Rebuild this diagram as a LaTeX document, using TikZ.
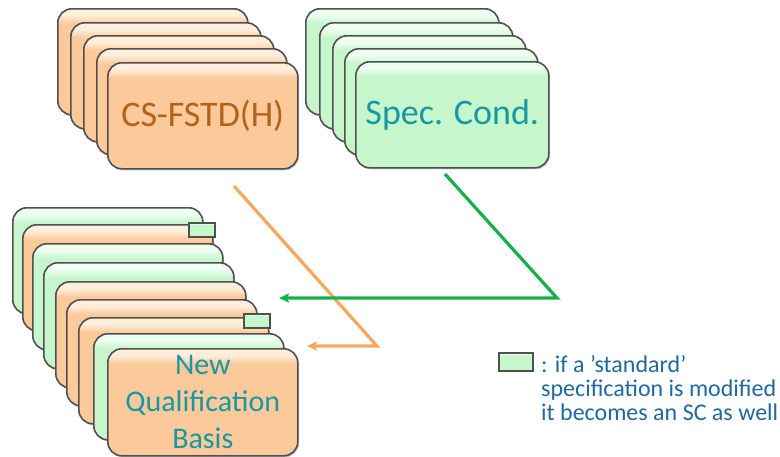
\documentclass[tikz,border=0pt]{standalone}
\usepackage{fontspec}
\setmainfont{Carlito}
\usetikzlibrary{shadows}
\usetikzlibrary{arrows.meta}
\definecolor{peach}{RGB}{251,201,154}
\definecolor{peachhi}{RGB}{255,238,220}
\definecolor{mint}{RGB}{198,246,204}
\definecolor{minthi}{RGB}{238,254,240}
\definecolor{cardline}{RGB}{80,80,80}
\definecolor{fstdbrown}{RGB}{178,98,26}
\definecolor{scteal}{RGB}{23,152,165}
\definecolor{keyblue}{RGB}{31,105,160}
\definecolor{fstdarrow}{RGB}{247,168,95}
\definecolor{scarrow}{RGB}{22,176,74}
% card fill: flat colour with a light band under the top edge
\pgfdeclareverticalshading{peachcard}{100bp}{color(0bp)=(peach); color(68bp)=(peach); color(72bp)=(peachhi); color(75bp)=(peachhi); color(100bp)=(peachhi)}
\pgfdeclareverticalshading{mintcard}{100bp}{color(0bp)=(mint); color(68bp)=(mint); color(72bp)=(minthi); color(75bp)=(minthi); color(100bp)=(minthi)}
\tikzset{
	card/.style={draw=cardline, line width=1.6pt, rounded corners=14pt, inner sep=0pt,
		minimum width=190pt, minimum height=106pt, anchor=north west,
		drop shadow={shadow xshift=1.2pt, shadow yshift=-1.5pt, opacity=0.45}},
	fstdcard/.style={card, shading=peachcard},
	sccard/.style={card, shading=mintcard},
	tab/.style={draw=cardline, line width=1.6pt, shading=mintcard, inner sep=0pt,
		minimum width=26pt, minimum height=14pt, anchor=north east},
	route/.style={line width=3.2pt, -{Stealth[length=10pt, width=9pt, inset=2pt]}}
}
\newcommand{\backcard}[4] % name, x in pt, y in pt (top left corner), style
{
	\node[#4] (#1) at (#2,#3) {};
}

\begin{document}
\begin{tikzpicture}[x=1pt, y=-1pt]
	% page: 780 x 456, y runs downwards
	\useasboundingbox (0,0) rectangle (780,456);
	% CS-FSTD(H) stack
	\backcard{fstdA}{57}{8}{fstdcard}
	\backcard{fstdB}{70}{22}{fstdcard}
	\backcard{fstdC}{83}{35}{fstdcard}
	\backcard{fstdD}{96}{48}{fstdcard}
	\node[fstdcard, text=fstdbrown, font=\fontsize{36pt}{43pt}\selectfont] (fstd) at (107,62) {CS-FSTD(H)};
	% special conditions stack
	\backcard{scA}{305}{8}{sccard, minimum width=193pt}
	\backcard{scB}{319}{22}{sccard, minimum width=193pt}
	\backcard{scC}{332}{35}{sccard, minimum width=193pt}
	\backcard{scD}{344}{48}{sccard, minimum width=193pt}
	\node[sccard, minimum width=193pt, text=scteal, font=\fontsize{36pt}{43pt}\selectfont] (sc) at (355,61) {Spec. Cond.};
	% new qualification basis stack
	\backcard{qbA}{12}{207}{sccard}
	\backcard{qbB}{22}{224}{fstdcard}
	\node[tab] (tabA) at ([xshift=2pt, yshift=2pt]qbB.north east) {};
	\backcard{qbC}{32}{243}{sccard}
	\backcard{qbD}{43}{262}{sccard}
	\backcard{qbE}{55}{281}{fstdcard}
	\backcard{qbF}{66}{299}{fstdcard}
	\backcard{qbG}{78}{317}{fstdcard}
	\node[tab] (tabB) at ([xshift=1pt, yshift=4pt]qbG.north east) {};
	\backcard{qbH}{93}{333}{sccard}
	\node[fstdcard, minimum height=107pt, text=scteal, align=center, font=\fontsize{30pt}{37pt}\selectfont] (qb) at (107,348) {New\\Qualification\\Basis};
	% routes into the new basis
	\coordinate (fstdtail) at (234,186);
	\coordinate (fstdbend) at (377,346);
	\coordinate (fstdin) at (307,346);
	\coordinate (sctail) at (445,174);
	\coordinate (scbend) at (557,298);
	\coordinate (scin) at (279,298);
	\draw[route, draw=fstdarrow] (fstdtail) -- (fstdbend) -- (fstdin);
	\draw[route, draw=scarrow] (sctail) -- (scbend) -- (scin);
	% key
	\node[tab, anchor=north west, minimum width=34pt, minimum height=18pt] (keybox) at (498,352) {};
	\node[anchor=north west, inner sep=0pt, align=left, text=keyblue, font=\fontsize{24pt}{24pt}\selectfont] (keytext) at (541,355) {: if a ’standard’\\specification is modified\\it becomes an SC as well};
\end{tikzpicture}
\end{document}
